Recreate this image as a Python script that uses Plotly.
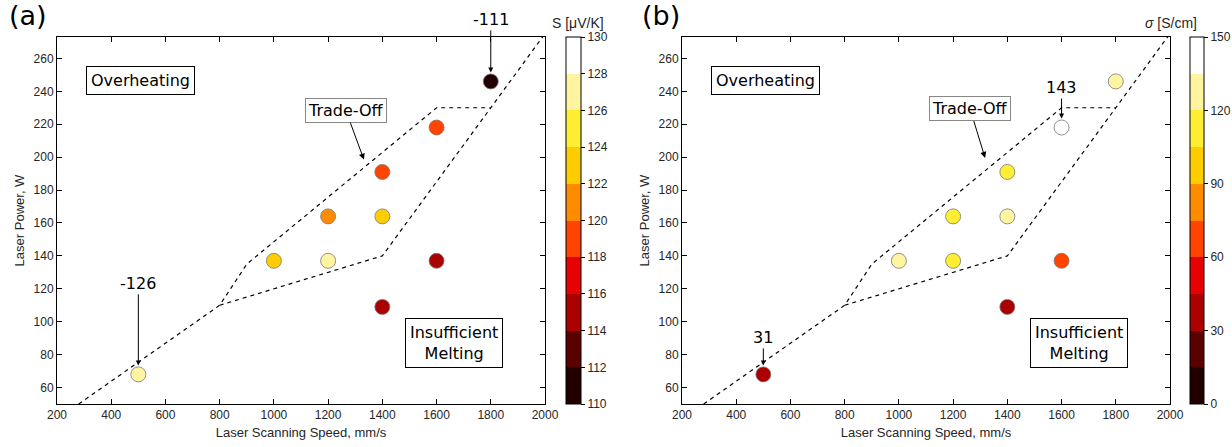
import plotly.graph_objects as go

# Process parameters of the printed samples
speed = [500, 1000, 1200, 1200, 1400, 1400, 1400, 1600, 1600, 1800]   # mm/s
power = [68, 137, 137, 164, 164, 191, 109, 218, 137, 246]             # W

# Seebeck coefficient (uV/K) and electrical conductivity (S/cm)
seebeck = [-126, -123, -127, -121, -123, -119, -115, -119, -115, -111]
sigma = [31, 128, 112, 110, 125, 115, 38, 143, 68, 127]

# Process-window boundaries (dashed)
upper_x = [280, 800, 900, 1600, 1800]
upper_y = [50, 110, 135, 230, 230]
lower_x = [800, 1400, 1800, 2000]
lower_y = [110, 140, 230, 275]

# Discrete colour bands
band_colors = ["#220000", "#5a0000", "#aa0000", "#e60000", "#ff4400",
               "#ff8c00", "#ffcc00", "#ffee33", "#fff5a0", "#ffffff"]
s_ticks = list(range(110, 131, 2))
sigma_ticks = list(range(0, 151, 30))


def stepped(colors):
    n = len(colors)
    scale = []
    for i, c in enumerate(colors):
        scale.append([i / n, c])
        scale.append([(i + 1) / n, c])
    return scale


W, H = 1232, 447
dom_y = [1 - 404 / H, 1 - 37 / H]
dom_x1 = [57 / W, 545 / W]
dom_x2 = [682 / W, 1170 / W]

fig = go.Figure()

for xa, ya in (("x", "y"), ("x2", "y2")):
    fig.add_trace(go.Scatter(x=upper_x, y=upper_y, mode="lines", xaxis=xa, yaxis=ya,
                             line=dict(color="black", width=1.2, dash="4px,4px"),
                             showlegend=False, hoverinfo="skip"))
    fig.add_trace(go.Scatter(x=lower_x, y=lower_y, mode="lines", xaxis=xa, yaxis=ya,
                             line=dict(color="black", width=1.2, dash="4px,4px"),
                             showlegend=False, hoverinfo="skip"))

fig.add_trace(go.Scatter(
    x=speed, y=power, mode="markers", xaxis="x", yaxis="y", showlegend=False,
    marker=dict(size=15, color=[abs(v) for v in seebeck], coloraxis="coloraxis",
                line=dict(color="#777777", width=0.8))))
fig.add_trace(go.Scatter(
    x=speed, y=power, mode="markers", xaxis="x2", yaxis="y2", showlegend=False,
    marker=dict(size=15, color=sigma, coloraxis="coloraxis2",
                line=dict(color="#777777", width=0.8))))

tick_font = dict(family="Liberation Sans, Arial", size=12, color="#262626")
axis_common = dict(range=[200, 2000], tickvals=list(range(200, 2001, 200)),
                   ticks="inside", ticklen=5, tickcolor="black", mirror="ticks",
                   showline=True, linecolor="black", linewidth=1, showgrid=False,
                   zeroline=False, tickfont=tick_font, automargin=False)
yaxis_common = dict(range=[50, 273], tickvals=list(range(60, 261, 20)),
                    ticks="inside", ticklen=5, tickcolor="black", mirror="ticks",
                    showline=True, linecolor="black", linewidth=1, showgrid=False,
                    zeroline=False, tickfont=tick_font, automargin=False)
title_font = dict(family="Liberation Sans, Arial", size=13, color="#262626")


def colorbar(x, ticks, thickness):
    return dict(x=x, xanchor="left", xpad=0, y=dom_y[0], yanchor="bottom", ypad=0,
                len=dom_y[1] - dom_y[0], lenmode="fraction", thickness=thickness,
                outlinecolor="black", outlinewidth=1,
                tickvals=ticks, ticks="outside", ticklen=4, tickcolor="black",
                tickfont=tick_font)


fig.update_layout(
    width=W, height=H, margin=dict(l=0, r=0, t=0, b=0, autoexpand=False),
    paper_bgcolor="white", plot_bgcolor="white",
    xaxis=dict(domain=dom_x1, anchor="y", **axis_common,
               title=dict(text="Laser Scanning Speed, mm/s", font=title_font, standoff=6)),
    yaxis=dict(domain=dom_y, anchor="x", **yaxis_common,
               title=dict(text="Laser Power, W", font=title_font, standoff=6)),
    xaxis2=dict(domain=dom_x2, anchor="y2", **axis_common,
                title=dict(text="Laser Scanning Speed, mm/s", font=title_font, standoff=6)),
    yaxis2=dict(domain=dom_y, anchor="x2", **yaxis_common,
                title=dict(text="Laser Power, W", font=title_font, standoff=6)),
    coloraxis=dict(cmin=110, cmax=130, colorscale=stepped(band_colors),
                   colorbar=colorbar(566 / W, s_ticks, 15)),
    coloraxis2=dict(cmin=0, cmax=150, colorscale=stepped(band_colors),
                    colorbar=colorbar(1190 / W, sigma_ticks, 14)),
)

label_font = dict(family="DejaVu Sans", size=16, color="black")
small_font = dict(family="DejaVu Sans", size=16, color="black")
cb_title_font = dict(family="Liberation Sans, Arial", size=14, color="#262626")

annotations = []
for xr, yr in (("x", "y"), ("x2", "y2")):
    annotations.append(dict(x=507, y=246.5, xref=xr, yref=yr, text="Overheating",
                            showarrow=False, font=label_font, bgcolor="white",
                            bordercolor="black", borderwidth=1, borderpad=4))
    annotations.append(dict(x=1665, y=87, xref=xr, yref=yr, text="Insufficient<br>Melting",
                            showarrow=False, font=label_font, bgcolor="white",
                            bordercolor="black", borderwidth=1, borderpad=4))

annotations.append(dict(x=1332, y=198.5, xref="x", yref="y", text="Trade-Off",
                        showarrow=True, ax=-18, ay=-49, arrowhead=2, arrowsize=1.2,
                        arrowwidth=1, arrowcolor="black", font=label_font,
                        bgcolor="white", bordercolor="#888888", borderwidth=1, borderpad=2))
annotations.append(dict(x=1318, y=199.5, xref="x2", yref="y2", text="Trade-Off",
                        showarrow=True, ax=-15, ay=-49, arrowhead=2, arrowsize=1.2,
                        arrowwidth=1, arrowcolor="black", font=label_font,
                        bgcolor="white", bordercolor="#888888", borderwidth=1, borderpad=2))

# Value labels for the extreme samples
for i in (0, 9):
    annotations.append(dict(x=speed[i], y=power[i], xref="x", yref="y",
                            text=f"{seebeck[i]}", showarrow=True, ax=0,
                            ay=-91 if i == 0 else -62, standoff=9, arrowcolor="black",
                            arrowhead=2, arrowsize=1, arrowwidth=1, font=small_font))
for i, off in ((0, -37), (7, -40)):
    annotations.append(dict(x=speed[i], y=power[i], xref="x2", yref="y2",
                            text=f"{sigma[i]}", showarrow=True, ax=0, ay=off, standoff=9,
                            arrowcolor="black", arrowhead=2, arrowsize=1, arrowwidth=1,
                            font=small_font))

# Colour-bar titles
annotations.append(dict(x=578 / W, y=1 - 13 / H, xref="paper", yref="paper",
                        text="S [μV/K]", showarrow=False, font=cb_title_font))
annotations.append(dict(x=1199 / W, y=1 - 13 / H, xref="paper", yref="paper",
                        text="<i>σ</i> [S/cm]", showarrow=False, font=cb_title_font))

annotations.append(dict(x=7 / W, y=1.005, xref="paper", yref="paper", xanchor="left",
                        yanchor="top", text="(a)", showarrow=False,
                        font=dict(family="DejaVu Sans", size=27, color="black")))
annotations.append(dict(x=640 / W, y=1.005, xref="paper", yref="paper", xanchor="left",
                        yanchor="top", text="(b)", showarrow=False,
                        font=dict(family="DejaVu Sans", size=27, color="black")))

fig.update_layout(annotations=annotations)
fig.write_html("out.html")
